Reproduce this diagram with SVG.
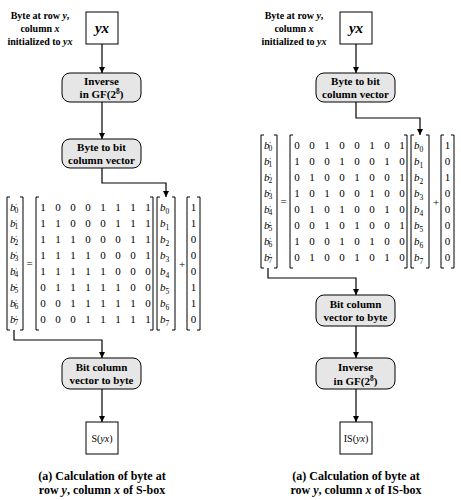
<svg xmlns="http://www.w3.org/2000/svg" width="461" height="500" viewBox="0 0 461 500">
<defs>
<marker id="ah" viewBox="0 0 10 10" refX="10" refY="5" markerWidth="6" markerHeight="6" markerUnits="userSpaceOnUse" orient="auto"><path d="M0,0 L10,5 L0,10 z" fill="#000"/></marker>
<style>
.lbl{font-family:"Liberation Serif",serif;font-weight:bold;font-size:10px;text-anchor:middle;fill:#000}
.it{font-style:italic}
.box{fill:#fff;stroke:#000;stroke-width:1}
.rbox{fill:#e6e6e6;stroke:#000;stroke-width:1}
.bt{font-family:"Liberation Serif",serif;font-weight:bold;font-size:11px;text-anchor:middle;fill:#000}
.big{font-family:"Liberation Serif",serif;font-weight:bold;font-style:italic;font-size:15px;text-anchor:middle}
.out{font-family:"Liberation Serif",serif;font-size:10px;text-anchor:middle}
.cap{font-family:"Liberation Serif",serif;font-weight:bold;font-size:12px;text-anchor:middle}
.d{font-family:"Liberation Serif",serif;font-size:11px;text-anchor:middle}
.b{font-family:"Liberation Serif",serif;font-style:italic;font-size:11px}
.sub{font-size:7.5px;font-style:normal}
.pr{font-size:7px;font-style:normal}
.br{fill:none;stroke:#000;stroke-width:1}
.con{fill:none;stroke:#000;stroke-width:1.2}
</style>
</defs>

<!-- LEFT: S-box -->
<g id="label-s">
<text class="lbl" x="40" y="19">Byte at row <tspan class="it">y</tspan>,</text>
<text class="lbl" x="40" y="32">column <tspan class="it">x</tspan></text>
<text class="lbl" x="40" y="45">initialized to <tspan class="it">yx</tspan></text>
</g>
<g id="node-yx-s"><rect class="box" x="86" y="12" width="32" height="32"/><text class="big" x="102" y="33">yx</text></g>
<g id="node-inv-s"><rect class="rbox" x="62" y="73" width="79" height="29" rx="8"/><text class="bt" x="101.5" y="85">Inverse</text><text class="bt" x="101.5" y="98">in GF(2<tspan font-size="7.5" dy="-4">8</tspan><tspan dy="4">)</tspan></text></g>
<g id="node-b2v-s"><rect class="rbox" x="62" y="139" width="79" height="29" rx="8"/><text class="bt" x="101.5" y="151">Byte to bit</text><text class="bt" x="101.5" y="164">column vector</text></g>

<g id="matrix-s">
<path class="br" d="M10,197 H7 V330 H10 M20,197 H23 V330 H20"/>
<text class="b" x="10" y="211">b<tspan class="pr" dy="-3">′</tspan><tspan class="sub" dx="-2.5" dy="5">0</tspan></text>
<text class="b" x="10" y="227">b<tspan class="pr" dy="-3">′</tspan><tspan class="sub" dx="-2.5" dy="5">1</tspan></text>
<text class="b" x="10" y="243">b<tspan class="pr" dy="-3">′</tspan><tspan class="sub" dx="-2.5" dy="5">2</tspan></text>
<text class="b" x="10" y="259">b<tspan class="pr" dy="-3">′</tspan><tspan class="sub" dx="-2.5" dy="5">3</tspan></text>
<text class="b" x="10" y="275">b<tspan class="pr" dy="-3">′</tspan><tspan class="sub" dx="-2.5" dy="5">4</tspan></text>
<text class="b" x="10" y="291">b<tspan class="pr" dy="-3">′</tspan><tspan class="sub" dx="-2.5" dy="5">5</tspan></text>
<text class="b" x="10" y="307">b<tspan class="pr" dy="-3">′</tspan><tspan class="sub" dx="-2.5" dy="5">6</tspan></text>
<text class="b" x="10" y="323">b<tspan class="pr" dy="-3">′</tspan><tspan class="sub" dx="-2.5" dy="5">7</tspan></text>
<text class="d" x="29.5" y="267">=</text>
<path class="br" d="M39,197 H36 V330 H39 M150,197 H153 V330 H150"/>
<text class="d" y="211"><tspan x="43">1</tspan><tspan x="58">0</tspan><tspan x="73">0</tspan><tspan x="88">0</tspan><tspan x="103">1</tspan><tspan x="118">1</tspan><tspan x="133">1</tspan><tspan x="148">1</tspan></text>
<text class="d" y="227"><tspan x="43">1</tspan><tspan x="58">1</tspan><tspan x="73">0</tspan><tspan x="88">0</tspan><tspan x="103">0</tspan><tspan x="118">1</tspan><tspan x="133">1</tspan><tspan x="148">1</tspan></text>
<text class="d" y="243"><tspan x="43">1</tspan><tspan x="58">1</tspan><tspan x="73">1</tspan><tspan x="88">0</tspan><tspan x="103">0</tspan><tspan x="118">0</tspan><tspan x="133">1</tspan><tspan x="148">1</tspan></text>
<text class="d" y="259"><tspan x="43">1</tspan><tspan x="58">1</tspan><tspan x="73">1</tspan><tspan x="88">1</tspan><tspan x="103">0</tspan><tspan x="118">0</tspan><tspan x="133">0</tspan><tspan x="148">1</tspan></text>
<text class="d" y="275"><tspan x="43">1</tspan><tspan x="58">1</tspan><tspan x="73">1</tspan><tspan x="88">1</tspan><tspan x="103">1</tspan><tspan x="118">0</tspan><tspan x="133">0</tspan><tspan x="148">0</tspan></text>
<text class="d" y="291"><tspan x="43">0</tspan><tspan x="58">1</tspan><tspan x="73">1</tspan><tspan x="88">1</tspan><tspan x="103">1</tspan><tspan x="118">1</tspan><tspan x="133">0</tspan><tspan x="148">0</tspan></text>
<text class="d" y="307"><tspan x="43">0</tspan><tspan x="58">0</tspan><tspan x="73">1</tspan><tspan x="88">1</tspan><tspan x="103">1</tspan><tspan x="118">1</tspan><tspan x="133">1</tspan><tspan x="148">0</tspan></text>
<text class="d" y="323"><tspan x="43">0</tspan><tspan x="58">0</tspan><tspan x="73">0</tspan><tspan x="88">1</tspan><tspan x="103">1</tspan><tspan x="118">1</tspan><tspan x="133">1</tspan><tspan x="148">1</tspan></text>
<path class="br" d="M160,197 H157 V330 H160 M172,197 H175 V330 H172"/>
<text class="b" x="160" y="211">b<tspan class="sub" dy="3">0</tspan></text>
<text class="b" x="160" y="227">b<tspan class="sub" dy="3">1</tspan></text>
<text class="b" x="160" y="243">b<tspan class="sub" dy="3">2</tspan></text>
<text class="b" x="160" y="259">b<tspan class="sub" dy="3">3</tspan></text>
<text class="b" x="160" y="275">b<tspan class="sub" dy="3">4</tspan></text>
<text class="b" x="160" y="291">b<tspan class="sub" dy="3">5</tspan></text>
<text class="b" x="160" y="307">b<tspan class="sub" dy="3">6</tspan></text>
<text class="b" x="160" y="323">b<tspan class="sub" dy="3">7</tspan></text>
<text class="d" x="182" y="268">+</text>
<path class="br" d="M190,197 H187 V330 H190 M197,197 H200 V330 H197"/>
<text class="d" x="193.5" y="211">1</text><text class="d" x="193.5" y="227">1</text><text class="d" x="193.5" y="243">0</text><text class="d" x="193.5" y="259">0</text><text class="d" x="193.5" y="275">0</text><text class="d" x="193.5" y="291">1</text><text class="d" x="193.5" y="307">1</text><text class="d" x="193.5" y="323">0</text>
</g>

<g id="node-v2b-s"><rect class="rbox" x="62" y="358" width="79" height="31" rx="8"/><text class="bt" x="101.5" y="371">Bit column</text><text class="bt" x="101.5" y="384">vector to byte</text></g>
<g id="node-out-s"><rect class="box" x="86" y="422" width="32" height="32"/><text class="out" x="102" y="442">S(<tspan class="it">yx</tspan>)</text></g>
<g id="caption-s">
<text class="cap" x="102" y="480">(a) Calculation of byte at</text>
<text class="cap" x="102" y="494">row <tspan class="it">y</tspan>, column <tspan class="it">x</tspan> of S-box</text>
</g>

<!-- RIGHT: IS-box -->
<g id="label-is">
<text class="lbl" x="294" y="19">Byte at row <tspan class="it">y</tspan>,</text>
<text class="lbl" x="294" y="32">column <tspan class="it">x</tspan></text>
<text class="lbl" x="294" y="45">initialized to <tspan class="it">yx</tspan></text>
</g>
<g id="node-yx-is"><rect class="box" x="340" y="12" width="32" height="32"/><text class="big" x="356" y="33">yx</text></g>
<g id="node-b2v-is"><rect class="rbox" x="316" y="73" width="79" height="29" rx="8"/><text class="bt" x="355.5" y="85">Byte to bit</text><text class="bt" x="355.5" y="98">column vector</text></g>

<g id="matrix-is" transform="translate(254,-62)">
<path class="br" d="M10,197 H7 V330 H10 M20,197 H23 V330 H20"/>
<text class="b" x="10" y="211">b<tspan class="pr" dy="-3">′</tspan><tspan class="sub" dx="-2.5" dy="5">0</tspan></text>
<text class="b" x="10" y="227">b<tspan class="pr" dy="-3">′</tspan><tspan class="sub" dx="-2.5" dy="5">1</tspan></text>
<text class="b" x="10" y="243">b<tspan class="pr" dy="-3">′</tspan><tspan class="sub" dx="-2.5" dy="5">2</tspan></text>
<text class="b" x="10" y="259">b<tspan class="pr" dy="-3">′</tspan><tspan class="sub" dx="-2.5" dy="5">3</tspan></text>
<text class="b" x="10" y="275">b<tspan class="pr" dy="-3">′</tspan><tspan class="sub" dx="-2.5" dy="5">4</tspan></text>
<text class="b" x="10" y="291">b<tspan class="pr" dy="-3">′</tspan><tspan class="sub" dx="-2.5" dy="5">5</tspan></text>
<text class="b" x="10" y="307">b<tspan class="pr" dy="-3">′</tspan><tspan class="sub" dx="-2.5" dy="5">6</tspan></text>
<text class="b" x="10" y="323">b<tspan class="pr" dy="-3">′</tspan><tspan class="sub" dx="-2.5" dy="5">7</tspan></text>
<text class="d" x="29.5" y="267">=</text>
<path class="br" d="M39,197 H36 V330 H39 M150,197 H153 V330 H150"/>
<text class="d" y="211"><tspan x="43">0</tspan><tspan x="58">0</tspan><tspan x="73">1</tspan><tspan x="88">0</tspan><tspan x="103">0</tspan><tspan x="118">1</tspan><tspan x="133">0</tspan><tspan x="148">1</tspan></text>
<text class="d" y="227"><tspan x="43">1</tspan><tspan x="58">0</tspan><tspan x="73">0</tspan><tspan x="88">1</tspan><tspan x="103">0</tspan><tspan x="118">0</tspan><tspan x="133">1</tspan><tspan x="148">0</tspan></text>
<text class="d" y="243"><tspan x="43">0</tspan><tspan x="58">1</tspan><tspan x="73">0</tspan><tspan x="88">0</tspan><tspan x="103">1</tspan><tspan x="118">0</tspan><tspan x="133">0</tspan><tspan x="148">1</tspan></text>
<text class="d" y="259"><tspan x="43">1</tspan><tspan x="58">0</tspan><tspan x="73">1</tspan><tspan x="88">0</tspan><tspan x="103">0</tspan><tspan x="118">1</tspan><tspan x="133">0</tspan><tspan x="148">0</tspan></text>
<text class="d" y="275"><tspan x="43">0</tspan><tspan x="58">1</tspan><tspan x="73">0</tspan><tspan x="88">1</tspan><tspan x="103">0</tspan><tspan x="118">0</tspan><tspan x="133">1</tspan><tspan x="148">0</tspan></text>
<text class="d" y="291"><tspan x="43">0</tspan><tspan x="58">0</tspan><tspan x="73">1</tspan><tspan x="88">0</tspan><tspan x="103">1</tspan><tspan x="118">0</tspan><tspan x="133">0</tspan><tspan x="148">1</tspan></text>
<text class="d" y="307"><tspan x="43">1</tspan><tspan x="58">0</tspan><tspan x="73">0</tspan><tspan x="88">1</tspan><tspan x="103">0</tspan><tspan x="118">1</tspan><tspan x="133">0</tspan><tspan x="148">0</tspan></text>
<text class="d" y="323"><tspan x="43">0</tspan><tspan x="58">1</tspan><tspan x="73">0</tspan><tspan x="88">0</tspan><tspan x="103">1</tspan><tspan x="118">0</tspan><tspan x="133">1</tspan><tspan x="148">0</tspan></text>
<path class="br" d="M160,197 H157 V330 H160 M172,197 H175 V330 H172"/>
<text class="b" x="160" y="211">b<tspan class="sub" dy="3">0</tspan></text>
<text class="b" x="160" y="227">b<tspan class="sub" dy="3">1</tspan></text>
<text class="b" x="160" y="243">b<tspan class="sub" dy="3">2</tspan></text>
<text class="b" x="160" y="259">b<tspan class="sub" dy="3">3</tspan></text>
<text class="b" x="160" y="275">b<tspan class="sub" dy="3">4</tspan></text>
<text class="b" x="160" y="291">b<tspan class="sub" dy="3">5</tspan></text>
<text class="b" x="160" y="307">b<tspan class="sub" dy="3">6</tspan></text>
<text class="b" x="160" y="323">b<tspan class="sub" dy="3">7</tspan></text>
<text class="d" x="182" y="268">+</text>
<path class="br" d="M190,197 H187 V330 H190 M197,197 H200 V330 H197"/>
<text class="d" x="193.5" y="211">1</text><text class="d" x="193.5" y="227">0</text><text class="d" x="193.5" y="243">1</text><text class="d" x="193.5" y="259">0</text><text class="d" x="193.5" y="275">0</text><text class="d" x="193.5" y="291">0</text><text class="d" x="193.5" y="307">0</text><text class="d" x="193.5" y="323">0</text>
</g>

<g id="node-v2b-is"><rect class="rbox" x="316" y="295" width="79" height="31" rx="8"/><text class="bt" x="355.5" y="308">Bit column</text><text class="bt" x="355.5" y="321">vector to byte</text></g>
<g id="node-inv-is"><rect class="rbox" x="316" y="358" width="79" height="31" rx="8"/><text class="bt" x="355.5" y="371">Inverse</text><text class="bt" x="355.5" y="385">in GF(2<tspan font-size="7.5" dy="-4">8</tspan><tspan dy="4">)</tspan></text></g>
<g id="node-out-is"><rect class="box" x="340" y="422" width="32" height="32"/><text class="out" x="356" y="442">IS(<tspan class="it">yx</tspan>)</text></g>
<g id="caption-is">
<text class="cap" x="356" y="480">(a) Calculation of byte at</text>
<text class="cap" x="356" y="494">row <tspan class="it">y</tspan>, column <tspan class="it">x</tspan> of IS-box</text>
</g>

<g id="connectors">
<path class="con" d="M102,44 V73" marker-end="url(#ah)"/>
<path class="con" d="M102,102 V139" marker-end="url(#ah)"/>
<path class="con" d="M102,168 V183 H166 V197" marker-end="url(#ah)"/>
<path class="con" d="M14,330 V340 H102 V358" marker-end="url(#ah)"/>
<path class="con" d="M102,389 V422" marker-end="url(#ah)"/>
<path class="con" d="M356,44 V73" marker-end="url(#ah)"/>
<path class="con" d="M356,102 V118 H420 V135" marker-end="url(#ah)"/>
<path class="con" d="M268,268 V278 H356 V295" marker-end="url(#ah)"/>
<path class="con" d="M356,326 V358" marker-end="url(#ah)"/>
<path class="con" d="M356,389 V422" marker-end="url(#ah)"/>
</g>
</svg>
